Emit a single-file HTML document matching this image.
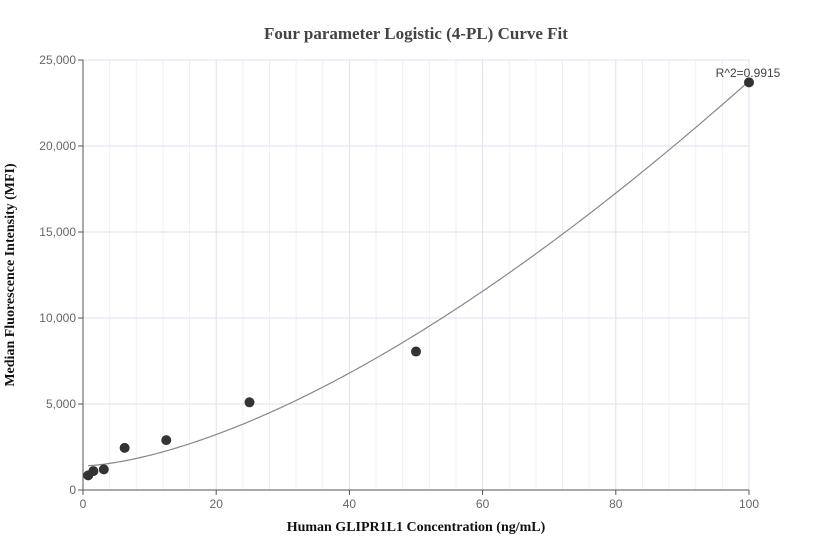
<!DOCTYPE html>
<html><head><meta charset="utf-8"><style>
body{margin:0;background:#fff;}
svg{display:block;font-family:"Liberation Sans",sans-serif;}
</style></head><body>
<svg id="chart" width="832" height="560">
<text x="416" y="39" text-anchor="middle" font-family="Liberation Serif" font-weight="bold" font-size="17" fill="#444">Four parameter Logistic (4-PL) Curve Fit</text>
<g id="grid"></g>
<g id="axes"></g>
<g id="marks"></g>
<text x="416" y="531" text-anchor="middle" font-family="Liberation Serif" font-weight="bold" font-size="14" fill="#111">Human GLIPR1L1 Concentration (ng/mL)</text>
<text transform="translate(14,275) rotate(-90)" text-anchor="middle" font-family="Liberation Serif" font-weight="bold" font-size="14" fill="#111">Median Fluorescence Intensity (MFI)</text>
<text x="748" y="77" text-anchor="middle" font-size="12" fill="#444">R^2=0.9915</text>
</svg>
<script>
const xConc=[0.78,1.56,3.125,6.25,12.5,25,50,100];
const yMFI=[850,1100,1200,2450,2900,5100,8050,23700];
const xTicks=[0,20,40,60,80,100];
const yTicks=[0,5000,10000,15000,20000,25000];
const fitParams=[1400,1.57,1108,1000000];
const NS='http://www.w3.org/2000/svg';
const X0=83,X1=749,Y0=490,Y1=60;
const xs=v=>X0+(v-0)/(100-0)*(X1-X0);
const ys=v=>Y0-(v-0)/(25000-0)*(Y0-Y1);
function mk(tag,attrs,parent){const e=document.createElementNS(NS,tag);for(const k in attrs)e.setAttribute(k,attrs[k]);document.getElementById(parent).appendChild(e);return e;}
for(let v=4;v<100;v+=4){if(v%20===0)continue;const l=mk('line',{x1:xs(v),x2:xs(v),y1:Y1,y2:Y0,stroke:'#eef0f8','stroke-width':1},'grid');

}
xTicks.forEach(t=>{if(t===0)return;const l=mk('line',{x1:xs(t),x2:xs(t),y1:Y1,y2:Y0,stroke:'#dde2f0','stroke-width':1},'grid');

});
yTicks.forEach(t=>{if(t===0)return;const l=mk('line',{x1:X0,x2:X1,y1:ys(t),y2:ys(t),stroke:'#dde2f0','stroke-width':1},'grid');

});
const ax=mk('line',{x1:X0,x2:X0,y1:Y1,y2:Y0,stroke:'#555','stroke-width':1},'axes');


const ay=mk('line',{x1:X0,x2:X1,y1:Y0,y2:Y0,stroke:'#555','stroke-width':1},'axes');


xTicks.forEach(t=>{const tk=mk('line',{x1:xs(t),x2:xs(t),y1:Y0,y2:Y0+5,stroke:'#555'},'axes');


const tx=mk('text',{x:xs(t),y:Y0+18,'text-anchor':'middle','font-size':12,fill:'#666'},'axes');tx.textContent=t;

});
yTicks.forEach(t=>{const tk=mk('line',{x1:X0-5,x2:X0,y1:ys(t),y2:ys(t),stroke:'#555'},'axes');


const tx=mk('text',{x:X0-7,y:ys(t)+4,'text-anchor':'end','font-size':12,fill:'#666'},'axes');tx.textContent=t.toLocaleString('en-US');

});
const [a,b,c,d]=fitParams;
const f=x=>d+(a-d)/(1+Math.pow(x/c,b));
let pts=[];for(let i=0;i<=200;i++){const x=xConc[0]+(100-xConc[0])*i/200;pts.push(xs(x).toFixed(2)+','+ys(f(x)).toFixed(2));}
const cv=mk('polyline',{points:pts.join(' '),fill:'none',stroke:'#888','stroke-width':1.2},'marks');


xConc.forEach((x,i)=>{const p=mk('circle',{cx:xs(x),cy:ys(yMFI[i]),r:5,fill:'#333'},'marks');

});
</script>
</body></html>
